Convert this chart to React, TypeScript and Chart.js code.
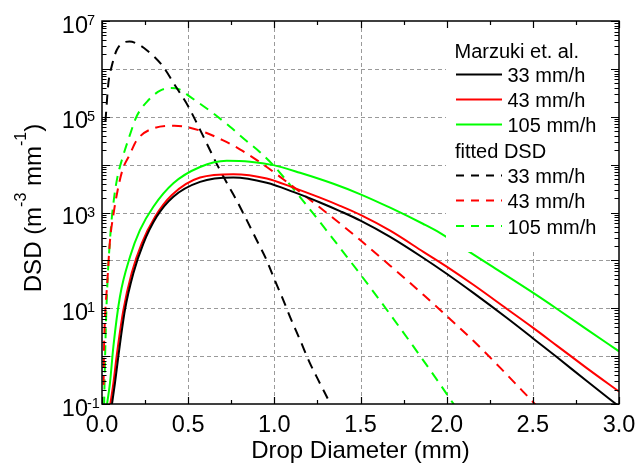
import { useEffect, useRef } from "react";
import { Chart, registerables } from "chart.js";

Chart.register(...registerables);

const FONT = '"Liberation Sans", Arial, Helvetica, sans-serif';

// Drop diameter (mm) and DSD (m^-3 mm^-1)
const marzuki33D = [0.054, 0.075, 0.095, 0.133, 0.182, 0.24, 0.317, 0.414, 0.569, 0.762, 0.956, 1.11, 1.265, 1.381, 1.5, 1.672, 1.865, 2.0, 2.155, 2.348, 2.498, 2.639, 2.813, 3.0];
const marzuki33N = [0.0794, 0.269, 1.0, 9.12, 53.7, 224, 813, 2140, 4370, 5370, 4170, 2690, 1620, 1070, 676, 309, 112, 52.5, 20.9, 6.31, 2.4, 0.955, 0.302, 0.0891];

const marzuki43D = [0.044, 0.066, 0.085, 0.124, 0.172, 0.23, 0.308, 0.404, 0.569, 0.762, 0.956, 1.11, 1.265, 1.381, 1.5, 1.672, 1.865, 2.0, 2.155, 2.348, 2.498, 2.639, 2.813, 3.0];
const marzuki43N = [0.0794, 0.269, 1.0, 9.12, 53.7, 224, 813, 2290, 5370, 6310, 5130, 3310, 2040, 1380, 891, 417, 151, 74.1, 30.9, 9.77, 3.98, 1.66, 0.562, 0.182];

const marzuki105D = [0.025, 0.046, 0.066, 0.104, 0.163, 0.22, 0.298, 0.414, 0.569, 0.724, 0.859, 0.994, 1.149, 1.343, 1.5, 1.672, 1.865, 1.963, 2.1, 2.252, 2.498, 2.639, 2.813, 3.0];
const marzuki105N = [0.0794, 0.269, 1.585, 17.4, 120, 427, 1320, 4070, 8910, 12000, 11500, 9770, 6760, 3980, 2400, 1260, 575, 372, 178, 79.4, 21.4, 9.77, 3.63, 1.26];

const fitted33D = [0.02, 0.037, 0.056, 0.085, 0.12, 0.16, 0.2, 0.26, 0.35, 0.43, 0.5, 0.57, 0.627, 0.665, 0.724, 0.78, 0.84, 0.898, 0.956, 0.994, 1.052, 1.091, 1.149, 1.207, 1.265, 1.314, 1.335];
const fitted33N = [7.94e4, 5.01e5, 1.12e6, 2.45e6, 3.47e6, 3.72e6, 3.39e6, 2.45e6, 1.17e6, 4.17e5, 1.66e5, 5.25e4, 2.0e4, 1.05e4, 4170, 1820, 692, 263, 100, 45.7, 14.8, 6.61, 2.19, 0.708, 0.269, 0.12, 0.0794];

const fitted43D = [0.009, 0.0116, 0.018, 0.03, 0.046, 0.066, 0.09, 0.12, 0.16, 0.2, 0.3, 0.42, 0.5, 0.6, 0.7, 0.8, 0.956, 1.05, 1.188, 1.343, 1.5, 1.672, 1.768, 1.865, 2.0, 2.155, 2.31, 2.494, 2.52];
const fitted43N = [0.251, 1.349, 7.08, 31.6, 251, 891, 2820, 7940, 1.585e4, 3.16e4, 5.75e4, 6.46e4, 6.03e4, 4.68e4, 3.24e4, 2.09e4, 8910, 5010, 2090, 759, 263, 77.6, 38.9, 19.1, 6.92, 2.09, 0.575, 0.117, 0.0933];

const fitted105D = [0.012, 0.02, 0.03, 0.05, 0.07, 0.09, 0.124, 0.16, 0.2, 0.27, 0.34, 0.4, 0.45, 0.51, 0.646, 0.743, 0.83, 0.917, 1.004, 1.072, 1.139, 1.188, 1.265, 1.343, 1.42, 1.501, 1.613, 1.729, 1.845, 1.962, 2.025, 2.05];
const fitted105N = [0.0891, 2.0, 25.1, 398, 2000, 5620, 1.585e4, 3.98e4, 1e5, 2.24e5, 3.55e5, 3.98e5, 3.72e5, 2.63e5, 1.175e5, 6.17e4, 3.31e4, 1.82e4, 8910, 4570, 2340, 1410, 631, 275, 120, 50.1, 14.5, 3.89, 1.023, 0.257, 0.12, 0.0891];

// Axis ticks / labels
const xMajor = [0, 0.5, 1, 1.5, 2, 2.5, 3];
const xMinor = [0.25, 0.75, 1.25, 1.75, 2.25, 2.75];
const xTickLabels = ["0.0", "0.5", "1.0", "1.5", "2.0", "2.5", "3.0"];
const xGrid = [0.5, 1, 1.5, 2, 2.5];
const yDecadeExp = [-1, 0, 1, 2, 3, 4, 5, 6, 7];
const yGridExp = [0, 1, 2, 3, 4, 5, 6];
const yLabelExp = ["-1", "1", "3", "5", "7"];

// Legend texts
const legendHeaders = ["Marzuki et. al.", "fitted DSD"];
const rateLabels = ["33 mm/h", "43 mm/h", "105 mm/h"];
const seriesColors = ["#000000", "#ff0000", "#00ff00"];

const DASH = [10, 7];

function zip(xs: number[], ys: number[]) {
  return xs.map((x, i) => ({ x, y: ys[i] }));
}

const decor = {
  id: "decor",
  beforeDatasetsDraw(chart: any) {
    const { ctx, chartArea: a, scales } = chart;
    const xs = scales.x;
    const ys = scales.y;
    ctx.save();
    ctx.strokeStyle = "#9a9a9a";
    ctx.lineWidth = 1;
    ctx.setLineDash([4, 3]);
    for (const v of xGrid) {
      const px = Math.round(xs.getPixelForValue(v)) + 0.5;
      ctx.beginPath();
      ctx.moveTo(px, a.top);
      ctx.lineTo(px, a.bottom);
      ctx.stroke();
    }
    for (const e of yGridExp) {
      const py = Math.round(ys.getPixelForValue(Math.pow(10, e))) + 0.5;
      ctx.beginPath();
      ctx.moveTo(a.left, py);
      ctx.lineTo(a.right, py);
      ctx.stroke();
    }
    ctx.restore();
  },
  afterDatasetsDraw(chart: any) {
    const { ctx, chartArea: a, scales } = chart;
    const xs = scales.x;
    const ys = scales.y;
    ctx.save();

    // legend box
    ctx.fillStyle = "#ffffff";
    ctx.fillRect(446, 22, 172, 230);
    ctx.fillStyle = "#000000";
    ctx.font = `20px ${FONT}`;
    ctx.textAlign = "left";
    ctx.textBaseline = "alphabetic";
    ctx.fillText(legendHeaders[0], 454.5, 57.5);
    ctx.fillText(legendHeaders[1], 455, 157.5);
    const solidY = [74.5, 99.5, 124.5];
    const dashY = [175.5, 200.5, 226];
    ctx.lineWidth = 2;
    for (let i = 0; i < 3; i++) {
      ctx.strokeStyle = seriesColors[i];
      ctx.setLineDash([]);
      ctx.beginPath();
      ctx.moveTo(456, solidY[i]);
      ctx.lineTo(502, solidY[i]);
      ctx.stroke();
      ctx.setLineDash([8, 7]);
      ctx.beginPath();
      ctx.moveTo(456, dashY[i]);
      ctx.lineTo(502, dashY[i]);
      ctx.stroke();
      ctx.setLineDash([]);
      ctx.fillStyle = "#000000";
      ctx.fillText(rateLabels[i], 507.5, solidY[i] + 7.5);
      ctx.fillText(rateLabels[i], 507.5, dashY[i] + 7.5);
    }

    // frame
    ctx.setLineDash([]);
    ctx.strokeStyle = "#000000";
    ctx.lineWidth = 1.5;
    ctx.strokeRect(a.left, a.top, a.right - a.left, a.bottom - a.top);

    // x ticks (inward, bottom and top)
    ctx.lineWidth = 1.2;
    const xTick = (v: number, len: number) => {
      const px = Math.round(xs.getPixelForValue(v)) + 0.5;
      ctx.beginPath();
      ctx.moveTo(px, a.bottom);
      ctx.lineTo(px, a.bottom - len);
      ctx.moveTo(px, a.top);
      ctx.lineTo(px, a.top + len);
      ctx.stroke();
    };
    xMajor.forEach((v) => xTick(v, 7));
    xMinor.forEach((v) => xTick(v, 4));

    // y ticks (inward, left and right)
    const yTick = (v: number, len: number) => {
      const py = Math.round(ys.getPixelForValue(v)) + 0.5;
      ctx.beginPath();
      ctx.moveTo(a.left, py);
      ctx.lineTo(a.left + len, py);
      ctx.moveTo(a.right, py);
      ctx.lineTo(a.right - len, py);
      ctx.stroke();
    };
    for (const e of yDecadeExp) {
      yTick(Math.pow(10, e), 8);
      if (e < 7) {
        for (let m = 2; m <= 9; m++) yTick(m * Math.pow(10, e), 4.5);
      }
    }

    // x tick labels
    ctx.fillStyle = "#000000";
    ctx.font = `23.5px ${FONT}`;
    ctx.textAlign = "center";
    xMajor.forEach((v, i) => {
      ctx.fillText(xTickLabels[i], xs.getPixelForValue(v), 431.5);
    });

    // y tick labels 10^n
    yLabelExp.forEach((ex) => {
      const py = ys.getPixelForValue(Math.pow(10, Number(ex)));
      ctx.font = `23.5px ${FONT}`;
      ctx.textAlign = "right";
      ctx.fillText("10", 88, py + 11.5);
      ctx.font = `14.5px ${FONT}`;
      ctx.textAlign = "left";
      ctx.fillText(ex, 87, py + 4);
    });

    // x title
    ctx.font = `24px ${FONT}`;
    ctx.textAlign = "center";
    ctx.fillText("Drop Diameter (mm)", (a.left + a.right) / 2, 458);

    // y title with superscripts
    const parts: [string, boolean][] = [
      ["DSD (m", false],
      ["-3", true],
      [" mm", false],
      ["-1", true],
      [")", false],
    ];
    const fontFor = (sup: boolean) => (sup ? `16px ${FONT}` : `24px ${FONT}`);
    let total = 0;
    for (const [t, sup] of parts) {
      ctx.font = fontFor(sup);
      total += ctx.measureText(t).width;
    }
    ctx.translate(41, 208);
    ctx.rotate(-Math.PI / 2);
    ctx.textAlign = "left";
    let x = -total / 2;
    for (const [t, sup] of parts) {
      ctx.font = fontFor(sup);
      ctx.fillText(t, x, sup ? -15.5 : 0);
      x += ctx.measureText(t).width;
    }
    ctx.restore();
  },
};

export default function App() {
  const ref = useRef<HTMLCanvasElement | null>(null);

  useEffect(() => {
    if (!ref.current) return;
    const mk = (label: string, xs: number[], ys: number[], color: string, dashed: boolean) => ({
      label,
      data: zip(xs, ys),
      borderColor: color,
      backgroundColor: color,
      borderWidth: 2,
      borderDash: dashed ? DASH : [],
      pointRadius: 0,
      fill: false,
      cubicInterpolationMode: "monotone" as const,
    });
    const chart = new Chart(ref.current, {
      type: "line",
      data: {
        datasets: [
          mk("Marzuki 33 mm/h", marzuki33D, marzuki33N, seriesColors[0], false),
          mk("Marzuki 43 mm/h", marzuki43D, marzuki43N, seriesColors[1], false),
          mk("Marzuki 105 mm/h", marzuki105D, marzuki105N, seriesColors[2], false),
          mk("fitted 33 mm/h", fitted33D, fitted33N, seriesColors[0], true),
          mk("fitted 43 mm/h", fitted43D, fitted43N, seriesColors[1], true),
          mk("fitted 105 mm/h", fitted105D, fitted105N, seriesColors[2], true),
        ],
      },
      options: {
        responsive: false,
        devicePixelRatio: 1,
        animation: false,
        layout: { padding: { left: 102, right: 25, top: 21, bottom: 65 } },
        plugins: { legend: { display: false }, tooltip: { enabled: false } },
        scales: {
          x: { type: "linear", min: 0, max: 3, display: false },
          y: { type: "logarithmic", min: 0.1, max: 1e7, display: false },
        },
      },
      plugins: [decor],
    });
    return () => chart.destroy();
  }, []);

  return (
    <div style={{ position: "absolute", left: 0, top: 0, width: 644, height: 469, background: "#ffffff" }}>
      <canvas ref={ref} width={644} height={469} style={{ display: "block", width: 644, height: 469 }} />
    </div>
  );
}
